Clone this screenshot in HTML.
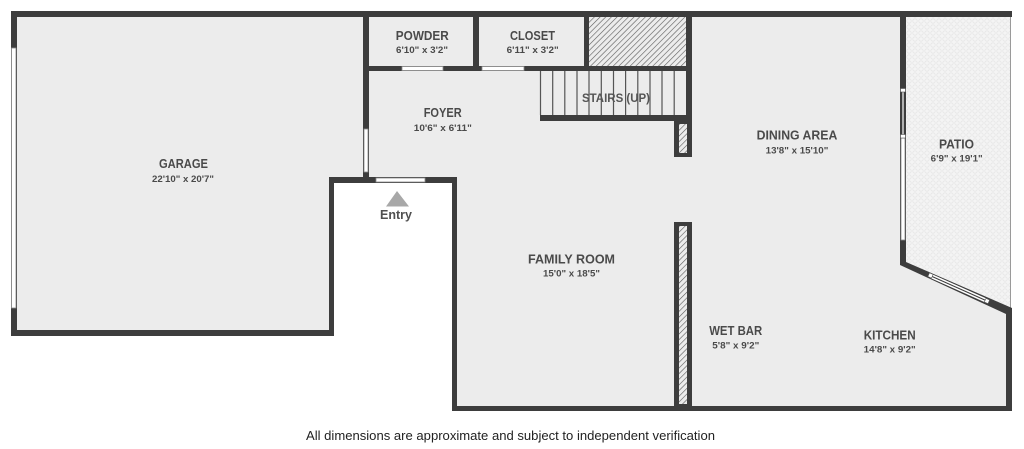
<!DOCTYPE html>
<html><head><meta charset="utf-8"><style>
html,body{margin:0;padding:0;background:#fff;width:1024px;height:449px;overflow:hidden}
svg{display:block}
text{font-family:"Liberation Sans",sans-serif;font-weight:bold;fill:#4a4a4a;text-anchor:middle}
</style></head><body>
<svg width="1024" height="449" viewBox="0 0 1024 449" xmlns="http://www.w3.org/2000/svg">
<defs>
<pattern id="hatch" width="4" height="4" patternUnits="userSpaceOnUse" patternTransform="rotate(45)">
<rect width="4" height="4" fill="#ececec"/>
<line x1="0" y1="0" x2="0" y2="4" stroke="#5a5a5a" stroke-width="1.2"/>
</pattern>
<pattern id="dots" width="6" height="6" patternUnits="userSpaceOnUse">
<rect width="6" height="6" fill="#f4f4f4"/>
<circle cx="3" cy="3" r="2.2" fill="none" stroke="#e6e6e6" stroke-width="0.8"/>
</pattern>
</defs>

<!-- floors -->
<polygon points="17,17 363,17 363,177 329,177 329,330 17,330" fill="#ececec"/>
<polygon points="369,17 900,17 900,265 1006,313 1006,406 457,406 457,183 369,183" fill="#ececec"/>
<polygon points="906,17 1010,17 1010,309 906,262" fill="url(#dots)"/>
<line x1="1010.5" y1="17" x2="1010.5" y2="310" stroke="#9a9a9a" stroke-width="1"/>

<!-- hatched area -->
<rect x="589" y="17" width="97" height="49" fill="url(#hatch)"/>

<!-- stairs -->
<rect x="540" y="71" width="146" height="44" fill="#ececec"/>
<g stroke="#555" stroke-width="1.2">
<line x1="540.5" y1="71" x2="540.5" y2="115"/>
<line x1="552.7" y1="71" x2="552.7" y2="115"/>
<line x1="564.8" y1="71" x2="564.8" y2="115"/>
<line x1="577" y1="71" x2="577" y2="115"/>
<line x1="589" y1="71" x2="589" y2="115"/>
<line x1="601.3" y1="71" x2="601.3" y2="115"/>
<line x1="613.5" y1="71" x2="613.5" y2="115"/>
<line x1="625.6" y1="71" x2="625.6" y2="115"/>
<line x1="637.8" y1="71" x2="637.8" y2="115"/>
<line x1="650" y1="71" x2="650" y2="115"/>
<line x1="662" y1="71" x2="662" y2="115"/>
<line x1="674.2" y1="71" x2="674.2" y2="115"/>
</g>
<text x="616" y="102" font-size="12" textLength="68" lengthAdjust="spacingAndGlyphs" style="fill:#555">STAIRS (UP)</text>

<!-- walls -->
<g fill="#3d3d3d">
<rect x="11" y="11" width="1001" height="6"/>
<rect x="11" y="11" width="6" height="325"/>
<rect x="11" y="330" width="323" height="6"/>
<rect x="329" y="177" width="5" height="159"/>
<rect x="329" y="177" width="128" height="6"/>
<rect x="363" y="11" width="6" height="172"/>
<rect x="363" y="66" width="329" height="5"/>
<rect x="473" y="11" width="6" height="60"/>
<rect x="584" y="11" width="5" height="60"/>
<rect x="686" y="11" width="6" height="110"/>
<rect x="540" y="115" width="152" height="6"/>
<rect x="674" y="121" width="18" height="36"/>
<rect x="674" y="222" width="18" height="185"/>
<rect x="452" y="177" width="5" height="234"/>
<rect x="452" y="406" width="560" height="5"/>
<rect x="900" y="11" width="6" height="254"/>
<polygon points="900,265 900,259 906,262 1012,308 1012,316 1006,314"/>
<rect x="1006" y="309" width="6" height="102"/>
</g>

<!-- pillar hatches -->
<rect x="679" y="124" width="8" height="29" fill="url(#hatch)"/>
<rect x="679" y="226" width="8" height="178" fill="url(#hatch)"/>

<!-- windows & doors -->
<g fill="#fff" stroke="#8a8a8a" stroke-width="0.8">
<rect x="11.5" y="48" width="4.5" height="260"/>
<rect x="364" y="129" width="4" height="43"/>
<rect x="376" y="178" width="49" height="4"/>
<rect x="402" y="66.5" width="41" height="4"/>
<rect x="482" y="66.5" width="42" height="4"/>
<rect x="901" y="138" width="4" height="102"/>
</g>
<!-- patio slider window -->
<rect x="901" y="90" width="4" height="47" fill="#3d3d3d"/>
<line x1="903" y1="92" x2="903" y2="135" stroke="#fff" stroke-width="1.2"/>
<rect x="900.5" y="88.5" width="5" height="3.5" fill="#fff" stroke="#555" stroke-width="0.6"/>
<rect x="900.5" y="134.5" width="5" height="3.5" fill="#fff" stroke="#555" stroke-width="0.6"/>
<!-- diagonal window -->
<line x1="931" y1="276" x2="987" y2="301" stroke="#fff" stroke-width="4"/>
<line x1="931" y1="276" x2="987" y2="301" stroke="#3d3d3d" stroke-width="1"/>
<rect x="928.5" y="273.5" width="4" height="4" fill="#fff" stroke="#555" stroke-width="0.6" transform="rotate(24 930.5 275.5)"/>
<rect x="985" y="299" width="4" height="4" fill="#fff" stroke="#555" stroke-width="0.6" transform="rotate(24 987 301)"/>

<!-- entry -->
<polygon points="397,191 386,206.5 409,206.5" fill="#a8a8a8"/>
<text x="396" y="219" font-size="12.5" textLength="32" lengthAdjust="spacingAndGlyphs" style="fill:#505050">Entry</text>

<!-- labels -->
<text x="183.5" y="168" font-size="12.5" textLength="49" lengthAdjust="spacingAndGlyphs">GARAGE</text>
<text x="183" y="182" font-size="9.5" textLength="62" lengthAdjust="spacingAndGlyphs">22'10" x 20'7"</text>

<text x="422.3" y="40" font-size="12.5" textLength="53" lengthAdjust="spacingAndGlyphs">POWDER</text>
<text x="422" y="53" font-size="9.5" textLength="52" lengthAdjust="spacingAndGlyphs">6'10" x 3'2"</text>

<text x="532.5" y="40" font-size="12.5" textLength="45" lengthAdjust="spacingAndGlyphs">CLOSET</text>
<text x="532.7" y="53" font-size="9.5" textLength="52" lengthAdjust="spacingAndGlyphs">6'11" x 3'2"</text>

<text x="442.7" y="117" font-size="12.5" textLength="38" lengthAdjust="spacingAndGlyphs">FOYER</text>
<text x="442.8" y="131" font-size="9.5" textLength="58" lengthAdjust="spacingAndGlyphs">10'6" x 6'11"</text>

<text x="797" y="139.3" font-size="12.5" textLength="80.7" lengthAdjust="spacingAndGlyphs">DINING AREA</text>
<text x="797" y="153.3" font-size="9.5" textLength="62.7" lengthAdjust="spacingAndGlyphs">13'8" x 15'10"</text>

<text x="956.5" y="148.3" font-size="12.5" textLength="35" lengthAdjust="spacingAndGlyphs">PATIO</text>
<text x="956.7" y="161.7" font-size="9.5" textLength="52" lengthAdjust="spacingAndGlyphs">6'9" x 19'1"</text>

<text x="571.5" y="263.3" font-size="12.5" textLength="87" lengthAdjust="spacingAndGlyphs">FAMILY ROOM</text>
<text x="571.5" y="276.7" font-size="9.5" textLength="57" lengthAdjust="spacingAndGlyphs">15'0" x 18'5"</text>

<text x="735.7" y="335" font-size="12.5" textLength="53" lengthAdjust="spacingAndGlyphs">WET BAR</text>
<text x="735.8" y="348.3" font-size="9.5" textLength="47" lengthAdjust="spacingAndGlyphs">5'8" x 9'2"</text>

<text x="889.7" y="339.3" font-size="12.5" textLength="52" lengthAdjust="spacingAndGlyphs">KITCHEN</text>
<text x="889.7" y="352.7" font-size="9.5" textLength="52" lengthAdjust="spacingAndGlyphs">14'8" x 9'2"</text>

<text x="510.5" y="440" font-size="13" textLength="409" lengthAdjust="spacingAndGlyphs" style="font-weight:normal;fill:#222">All dimensions are approximate and subject to independent verification</text>
</svg>
</body></html>
